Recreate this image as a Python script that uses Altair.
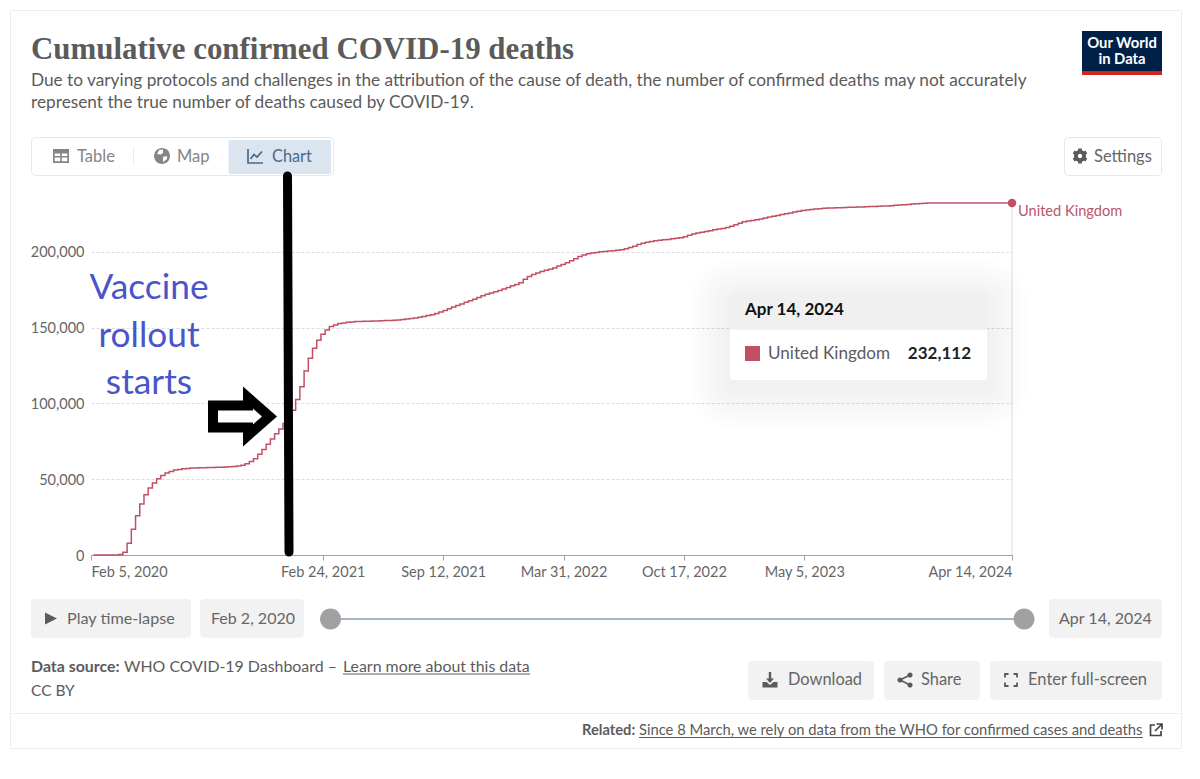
import altair as alt
import pandas as pd

# ---- data ----
first_week = "2020-02-09"
deaths = [
 0,0,0,0,0,40,350,1800,7700,17000,
 25800,33700,39700,44100,47400,50300,52500,54000,55100,56000,
 56400,56900,57100,57300,57400,57500,57600,57700,57750,57800,
 57900,58000,58150,58350,58700,59100,60200,61700,63500,66400,
 69500,73000,76500,80000,83100,86700,89700,95500,102500,110900,
 121300,129700,136300,141600,145500,148400,150600,151700,152600,153000,
 153500,153700,153900,154000,154100,154200,154300,154350,154450,154550,
 154700,154850,155000,155250,155550,155900,156300,156800,157300,157900,
 158500,159200,160200,161200,162300,163500,164500,165500,166600,167700,
 168700,169800,170900,171900,172800,173600,174400,175400,176400,177500,
 178400,179600,181800,183700,185000,186000,186900,187800,188500,189300,
 190500,191500,192700,194000,195400,196800,197800,198600,199100,199500,
 199900,200200,200400,200700,200900,201300,201900,202700,203600,204700,
 205500,206200,206700,207200,207500,207900,208100,208500,208900,209200,
 209900,210800,211700,212400,212900,213300,213800,214400,214900,215300,
 216000,216800,217700,218800,219700,220200,220600,221100,221600,222200,
 222800,223400,223900,224500,225000,225600,226100,226700,227200,227500,
 227800,228100,228400,228600,228750,228850,228950,229050,229150,229250,
 229350,229450,229550,229650,229750,229850,229950,230100,230200,230350,
 230550,230800,231000,231200,231400,231650,231850,232000,232040,232050,
 232055,232060,232062,232065,232068,232070,232072,232075,232078,232080,
 232082,232085,232088,232090,232092,232095,232098,232100,232112,
]
weeks = pd.date_range(first_week, periods=len(deaths), freq="7D").strftime("%Y-%m-%d").tolist()
series_name = "United Kingdom"
y_ticks = [0, 50000, 100000, 150000, 200000]
x_ticks = [(2020,2,5),(2021,2,24),(2021,9,12),(2022,3,31),(2022,10,17),(2023,5,5),(2024,4,14)]

RED = "#c15065"
GREY = "#5b5b5b"
BTN = "#f2f2f2"
UIFONT = "Lato"
OX, OY = 91, 203   # page position of the plot area's top-left corner
W, H = 921, 352

df = pd.DataFrame({"date": weeks, "deaths": deaths, "name": series_name})
last = df.tail(1)
one = alt.Data(values=[{"a": 1}])
dt = lambda t: alt.DateTime(year=t[0], month=t[1], date=t[2])


def box(x0, y0, x1, y1, fill="#ffffff", stroke=None, r=0, op=1.0, sw=1):
    kw = dict(cornerRadius=r, opacity=op, fill=fill)
    if stroke:
        kw.update(stroke=stroke, strokeWidth=sw)
    return alt.Chart(one).mark_rect(**kw).encode(
        x=alt.value(x0 - OX), x2=alt.value(x1 - OX),
        y=alt.value(y0 - OY), y2=alt.value(y1 - OY))


def txt(x, y, s, size=16, color=GREY, weight="normal", align="left", font=UIFONT):
    return alt.Chart(one).mark_text(
        align=align, baseline="middle", fontSize=size, color=color,
        fontWeight=weight, font=font).encode(
        x=alt.value(x - OX), y=alt.value(y + 1 - OY), text=alt.value(s))


def line(x0, y0, x1, y1, color="#000000", sw=1, cap="butt", dash=None):
    kw = dict(color=color, strokeWidth=sw, strokeCap=cap)
    if dash:
        kw["strokeDash"] = dash
    return alt.Chart(one).mark_rule(**kw).encode(
        x=alt.value(x0 - OX), x2=alt.value(x1 - OX),
        y=alt.value(y0 - OY), y2=alt.value(y1 - OY))


def icon(x, y, path, fill=None, stroke=None, sw=1):
    kw = dict(shape=path, size=4, opacity=1)
    if fill:
        kw.update(filled=True, fill=fill)
    else:
        kw.update(filled=False, fill="transparent")
    if stroke:
        kw.update(stroke=stroke, strokeWidth=sw)
    else:
        kw.update(strokeWidth=0)
    return alt.Chart(one).mark_point(**kw).encode(
        x=alt.value(x - OX), y=alt.value(y - OY))


def circle(x, y, r, fill):
    return icon(x, y, f"M{-r},0A{r},{r} 0 1,1 {r},0A{r},{r} 0 1,1 {-r},0Z", fill=fill)


layers = []
# ---- card frame ----
layers += [
    line(10, 0.5, 1181, 0.5, "#f0f0f0"),
    line(10, 10.5, 1181, 10.5, "#eeeeee"),
    line(10.5, 10, 10.5, 748, "#eeeeee"),
    line(1181.5, 10, 1181.5, 748, "#eeeeee"),
    line(10, 748.5, 1181, 748.5, "#eeeeee"),
    line(10, 713.5, 1181, 713.5, "#eeeeee"),
]
# ---- header ----
layers += [
    txt(31, 49, "Cumulative confirmed COVID-19 deaths", 30.9, GREY, "bold", font="Liberation Serif"),
    txt(31, 80, "Due to varying protocols and challenges in the attribution of the cause of death, the number of confirmed deaths may not accurately", 17.25),
    txt(31, 102, "represent the true number of deaths caused by COVID-19.", 17.25),
    box(1082, 31, 1162, 75, "#002147"),
    box(1082, 71, 1162, 75, "#ce261e"),
    txt(1122, 42.5, "Our World", 14.8, "#ffffff", "bold", "center"),
    txt(1122, 58.5, "in Data", 14.8, "#ffffff", "bold", "center"),
]
# ---- tabs and settings ----
layers += [
    box(31.5, 137.5, 333.5, 175.5, "#ffffff", "#e7e7e7", 4),
    box(228.5, 140, 331, 174, "#dbe5f0", r=2),
    line(133.5, 147, 133.5, 166, "#ececec"),
    txt(77, 155.5, "Table", 16.5, "#858585"),
    txt(177, 155.5, "Map", 16.5, "#858585"),
    txt(272, 155.5, "Chart", 16.3, "#4a6a88"),
    icon(61, 156, "M-8,-7L8,-7L8,7L-8,7Z", fill="#858585"),
    icon(61, 156, "M-6.3,-2.6L-0.8,-2.6L-0.8,0L-6.3,0ZM0.8,-2.6L6.3,-2.6L6.3,0L0.8,0ZM-6.3,1.5L-0.8,1.5L-0.8,5.3L-6.3,5.3ZM0.8,1.5L6.3,1.5L6.3,5.3L0.8,5.3Z", fill="#ffffff"),
    circle(162, 156, 8, "#858585"),
    icon(162, 156, "M-3,-6L1,-6.5L1,-3L-1.5,-1.5L-5,-2ZM1,1L5,0L5,3L1,6Z", fill="#ffffff"),
    icon(255.5, 156, "M-7.5,-7L-7.5,7L7.5,7M-5,3L-1.5,-1.5L1.5,1L6.5,-4.5", stroke="#4a6a88", sw=1.7),
    box(1064.5, 137.5, 1161.5, 175.5, "#ffffff", "#e7e7e7", 4),
    circle(1080, 156, 6, "#5b5b5b"),
    icon(1080, 156, "M-1.8,-7.5L1.8,-7.5L1.8,7.5L-1.8,7.5ZM-7.3,-2.5L-5.5,-5.6L7.3,2.5L5.5,5.6ZM-7.3,2.5L-5.5,5.6L7.3,-2.5L5.5,-5.6Z", fill="#5b5b5b"),
    circle(1080, 156, 2.2, "#ffffff"),
    txt(1094, 155.5, "Settings", 16.5, "#666666"),
]
# ---- data layers ----
x_enc = alt.X("date:T", title=None,
              scale=alt.Scale(domain=[dt(x_ticks[0]), dt(x_ticks[-1])]),
              axis=alt.Axis(values=[dt(t) for t in x_ticks], format="%b %-d, %Y",
                            grid=False, domainColor="#a1a1a1", tickColor="#a1a1a1",
                            tickSize=5, labelFlush=True, labelFont=UIFONT, labelFontSize=14.5,
                            labelColor="#666666", labelPadding=5, labelOverlap=False))
y_enc = alt.Y("deaths:Q", title=None,
              scale=alt.Scale(domain=[0, 232112], nice=False),
              axis=alt.Axis(values=y_ticks, format=",.0f", domain=False, ticks=False,
                            grid=True, gridColor="#dddddd", gridDash=[3, 2],
                            labelFont=UIFONT, labelFontSize=14.5, labelColor="#666666",
                            labelPadding=7, labelOffset=1))
base = alt.Chart(df)
layers += [
    alt.Chart(last).mark_rule(color="#dddddd", strokeWidth=1).encode(
        x=x_enc, y=y_enc, y2=alt.value(H)),
    base.mark_line(color=RED, strokeWidth=1.5, interpolate="step-after").encode(x=x_enc, y=y_enc),
    alt.Chart(last).mark_point(filled=True, color=RED, size=72, opacity=1).encode(x=x_enc, y=y_enc),
    alt.Chart(last).mark_text(align="left", baseline="middle", dx=6, dy=9, font=UIFONT,
                              fontSize=14.6, color="#b9556a").encode(x=x_enc, y=y_enc, text="name:N"),
]
# ---- tooltip with soft shadow ----
for i in range(1, 15):
    g = 3 * i
    layers.append(box(730 - g, 292 - g + 8, 987 + g, 380 + g + 8, "#000000", r=g + 4, op=0.0048))
layers += [
    box(730, 292, 987, 380, "#ffffff", r=3),
    box(730, 292, 987, 330, "#f0f0f0", r=3),
    txt(745, 309, "Apr 14, 2024", 17, "#111111", "bold"),
    box(745, 346, 760, 361, RED),
    txt(768, 353, series_name, 17.1, GREY),
    txt(971, 353, "232,112", 17, "#222222", "bold", "right"),
]
# ---- hand-drawn annotation ----
layers += [
    line(287.5, 176, 289, 552, "#000000", 9, "round"),
    icon(242, 416.5, "M-34,-16L1,-16L1,-30L35,0L1,30L1,16L-34,16Z", fill="#000000"),
    icon(240, 416.5, "M-22,-6L13,-6L13,-8L22,0L13,8L13,6L-22,6Z", fill="#ffffff"),
    txt(149, 287, "Vaccine", 35.3, "#4a55c8", align="center"),
    txt(149, 335, "rollout", 35.3, "#4a55c8", align="center"),
    txt(149, 382, "starts", 35.3, "#4a55c8", align="center"),
]
# ---- time-lapse controls ----
layers += [
    box(31, 599, 191, 638, BTN, r=4),
    box(200, 599, 304, 638, BTN, r=4),
    box(1049, 599, 1162, 638, BTN, r=4),
    icon(51, 618.5, "M-6,-6L6,0L-6,6Z", fill="#5b5b5b"),
    txt(67, 617.5, "Play time-lapse", 16.2, "#666666"),
    txt(211, 617.5, "Feb 2, 2020", 16, "#666666"),
    txt(1059, 617.5, "Apr 14, 2024", 16, "#666666"),
    line(340, 619, 1014, 619, "#a5b5c8", 2),
    circle(330.5, 619, 10.5, "#a1a1a1"),
    circle(1024, 619, 10.5, "#a1a1a1"),
]
# ---- source and buttons ----
layers += [
    txt(31, 665.5, "Data source:", 15.9, GREY, "bold"),
    txt(124, 665.5, "WHO COVID-19 Dashboard –", 15.9),
    txt(343, 665.5, "Learn more about this data", 15.9),
    line(343, 674, 530, 674, GREY),
    txt(31, 689.5, "CC BY", 15.5),
    box(748, 661, 874, 700, BTN, r=4),
    box(884, 661, 980, 700, BTN, r=4),
    box(990, 661, 1162, 700, BTN, r=4),
    txt(788, 678.5, "Download", 16.4, "#666666"),
    txt(921, 678.5, "Share", 16.4, "#666666"),
    txt(1028, 678.5, "Enter full-screen", 16.5, "#666666"),
    icon(770, 680, "M-1.2,-8L1.2,-8L1.2,-1.5L4,-1.5L0,3L-4,-1.5L-1.2,-1.5ZM-7.5,2L-3.5,2L0,5L3.5,2L7.5,2L7.5,7.5L-7.5,7.5Z", fill="#5b5b5b"),
    icon(905, 680, "M5,-5L-5,0L5,5", stroke="#5b5b5b", sw=1.6),
    circle(900, 680, 2.6, "#5b5b5b"),
    circle(910, 675, 2.6, "#5b5b5b"),
    circle(910, 685, 2.6, "#5b5b5b"),
    icon(1011, 680, "M-6,-2.5L-6,-6L-2.5,-6M2.5,-6L6,-6L6,-2.5M6,2.5L6,6L2.5,6M-2.5,6L-6,6L-6,2.5", stroke="#5b5b5b", sw=1.8),
    txt(582, 729.5, "Related:", 14.7, GREY, "bold"),
    txt(639, 729.5, "Since 8 March, we rely on data from the WHO for confirmed cases and deaths", 14.76),
    line(639, 737.5, 1143, 737.5, GREY),
    icon(1156, 730, "M-1,-5L-5.5,-5L-5.5,5.5L5,5.5L5,1M0.5,-6L6,-6L6,-0.5M6,-6L-1,1", stroke="#444444", sw=1.7),
]

chart = alt.layer(*layers).properties(
    width=W, height=H, background="#ffffff", autosize="none",
    padding={"left": OX - 8, "top": OY - 8, "right": 180, "bottom": 208},
).configure_view(stroke=None)

chart.save("out.html", embed_options={"renderer": "svg", "actions": False})
